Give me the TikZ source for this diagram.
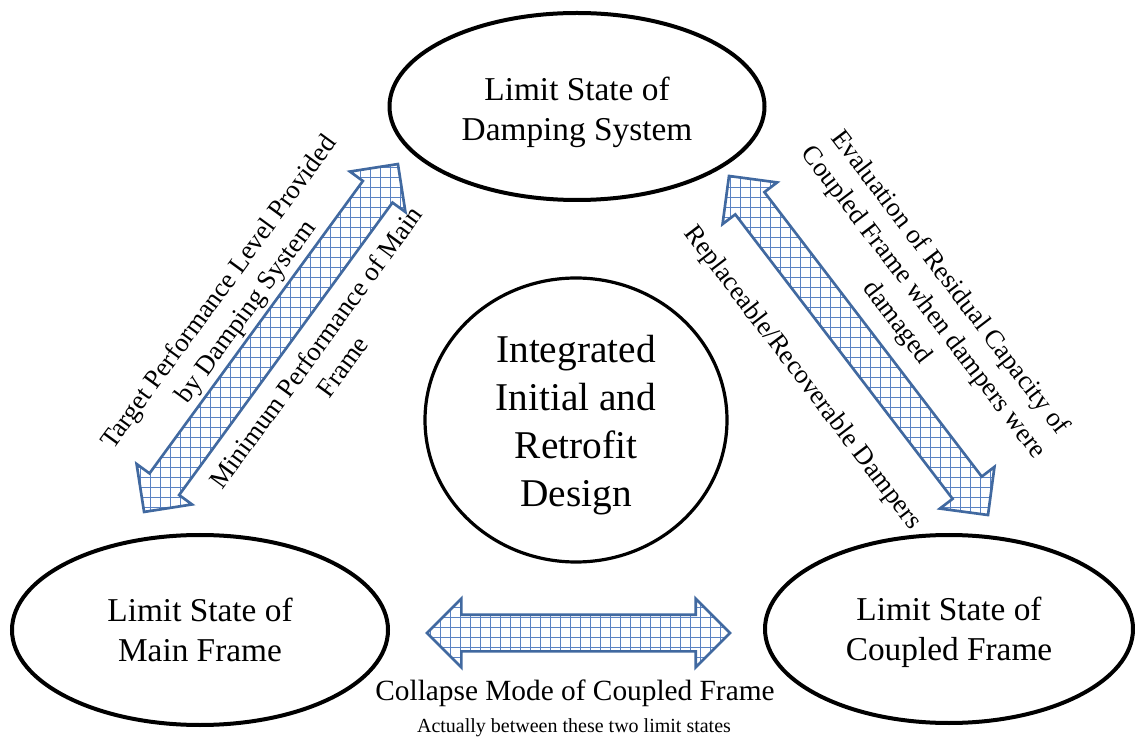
\documentclass[tikz,border=0pt]{standalone}
\usepackage{fontspec}
\setmainfont{Liberation Serif}
\usetikzlibrary{shapes.geometric,shapes.arrows,patterns}
\pgfdeclarepatternformonly{gridfill}{\pgfqpoint{-1pt}{-1pt}}{\pgfqpoint{8.5pt}{8.5pt}}{\pgfqpoint{7.5pt}{7.5pt}}{%
  \pgfsetlinewidth{0.6pt}%
  \pgfpathmoveto{\pgfqpoint{0pt}{0pt}}\pgfpathlineto{\pgfqpoint{0pt}{7.55pt}}%
  \pgfpathmoveto{\pgfqpoint{0pt}{0pt}}\pgfpathlineto{\pgfqpoint{7.55pt}{0pt}}%
  \pgfusepath{stroke}}
\definecolor{arrowblue}{RGB}{65,105,160}
\definecolor{gridblue}{RGB}{90,130,195}
\begin{document}
\begin{tikzpicture}[x=0.75pt,y=-0.75pt,
  state/.style={ellipse, draw=black, line width=3pt, inner sep=0pt, align=center,
    font=\fontsize{25}{30}\selectfont},
  core/.style={ellipse, draw=black, line width=2.4pt, inner sep=0pt, align=center,
    font=\fontsize{29.5}{36}\selectfont},
  blockarrow/.style={double arrow, draw=arrowblue, line width=2pt, pattern=gridfill,
    pattern color=gridblue, inner xsep=0pt, inner ysep=12.75pt,
    double arrow head extend=12pt, double arrow tip angle=90},
  lbl/.style={align=center, font=\fontsize{20}{24.75}\selectfont, inner sep=0pt}]
\useasboundingbox (0,0) rectangle (1135,737);
\node[state, minimum width=281.25pt, minimum height=140.25pt] (damp) at (577,106.5) {\rule{0pt}{26pt}Limit State of\\Damping System};
\node[state, minimum width=282pt, minimum height=142.5pt] (main) at (200,630) {Limit State of\\Main Frame};
\node[state, minimum width=276pt, minimum height=141pt] (coup) at (949,629) {\rule{0pt}{22.5pt}Limit State of\\Coupled Frame};
\node[core, minimum width=226.5pt, minimum height=213pt] (integ) at (576,420) {\rule{0pt}{27.6pt}Integrated\\Initial and\\Retrofit\\Design};
\node[blockarrow, minimum height=323pt, rotate=53.88] (leftarr) at (271,338) {};
\node[blockarrow, minimum height=320pt, rotate=-52.62] (rightarr) at (858.5,345.5) {};
\node[blockarrow, minimum height=227.25pt] (botarr) at (578.5,633) {};
\node[lbl, rotate=53.88] (lt1) at (233.5,302.5) {Target Performance Level Provided\\by Damping System};
\node[lbl, rotate=53.88] (lt2) at (329,357) {Minimum Performance of Main\\Frame};
\node[lbl, rotate=-52.62] (rt1) at (923,303) {Evaluation of Residual Capacity of\\Coupled Frame when dampers were\\damaged};
\node[lbl, rotate=-52.62] (rt2) at (802,378) {Replaceable/Recoverable Dampers};
\node[inner sep=0pt, anchor=base, font=\fontsize{22}{26}\selectfont] (bt1) at (575,700) {Collapse Mode of Coupled Frame};
\node[inner sep=0pt, anchor=base, font=\fontsize{15}{18}\selectfont] (bt2) at (574,732) {Actually between these two limit states};
\end{tikzpicture}
\end{document}
